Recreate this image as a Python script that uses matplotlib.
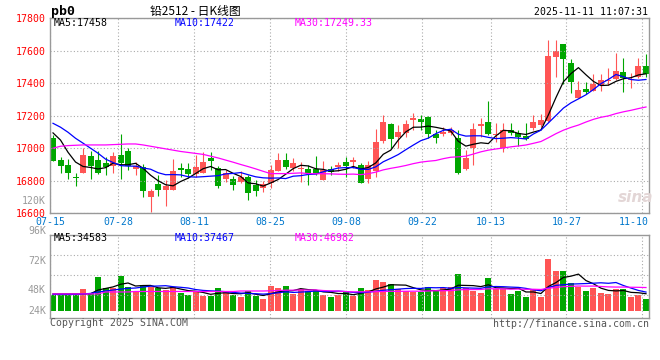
import numpy as np
import pandas as pd
import matplotlib.pyplot as plt

# подписи дат и их индексы (торговые дни)
date_labels = ['07-15', '07-28', '08-11', '08-25', '09-08', '09-22', '10-13', '10-27', '11-10']
date_idx = [0, 9, 19, 29, 39, 49, 58, 68, 78]

opens = [17061, 16928, 16898, 16822, 16847, 16953, 16928, 16912, 16893, 16959,
         16983, 16871, 16887, 16703, 16781, 16744, 16744, 16877, 16871, 16842,
         16850, 16939, 16877, 16812, 16812, 16792, 16826, 16771, 16755, 16785,
         16861, 16928, 16877, 16875, 16873, 16873, 16806, 16873, 16887, 16918,
         16918, 16898, 16812, 16857, 17047, 17149, 17071, 17092, 17173, 17180,
         17194, 17088, 17088, 17096, 17061, 16873, 17000, 17137, 17159, 17080,
         17000, 17112, 17096, 17075, 17126, 17143, 17167, 17562, 17639, 17525,
         17310, 17364, 17353, 17388, 17414, 17423, 17466, 17419, 17439, 17504]
highs = [17082, 16949, 16934, 16850, 17004, 16985, 16983, 16945, 16975, 17088,
         17000, 16918, 16904, 16751, 16836, 16806, 16933, 16908, 16908, 16959,
         16979, 16979, 16891, 16867, 16830, 16857, 16836, 16806, 16801, 16898,
         16973, 16969, 16939, 16918, 16898, 16953, 16922, 16891, 16918, 16945,
         16945, 16912, 16922, 17116, 17204, 17157, 17143, 17173, 17214, 17204,
         17198, 17112, 17129, 17129, 17112, 16990, 17157, 17184, 17290, 17157,
         17157, 17157, 17112, 17157, 17204, 17208, 17664, 17664, 17639, 17547,
         17413, 17405, 17454, 17454, 17490, 17582, 17552, 17460, 17552, 17578]
lows = [16924, 16850, 16812, 16769, 16847, 16812, 16842, 16836, 16847, 16810,
        16867, 16836, 16703, 16611, 16708, 16646, 16744, 16826, 16816, 16826,
        16850, 16867, 16755, 16795, 16744, 16785, 16679, 16708, 16728, 16755,
        16857, 16871, 16857, 16795, 16775, 16836, 16806, 16836, 16861, 16826,
        16877, 16785, 16789, 16826, 17031, 17004, 17000, 17071, 17112, 17112,
        17061, 17034, 17075, 17082, 16842, 16867, 16898, 17071, 17082, 17040,
        16977, 17082, 17014, 17051, 17112, 17132, 17159, 17439, 17392, 17337,
        17310, 17333, 17353, 17351, 17388, 17419, 17347, 17368, 17429, 17439]
closes = [16924, 16893, 16847, 16816, 16959, 16893, 16847, 16887, 16953, 16912,
          16893, 16891, 16734, 16740, 16744, 16769, 16857, 16867, 16842, 16887,
          16918, 16924, 16765, 16850, 16771, 16822, 16724, 16740, 16779, 16867,
          16928, 16887, 16912, 16881, 16847, 16842, 16867, 16853, 16898, 16893,
          16928, 16789, 16898, 17040, 17159, 17055, 17098, 17149, 17183, 17163,
          17086, 17061, 17102, 17112, 16850, 16939, 17118, 17147, 17088, 17086,
          17112, 17096, 17071, 17057, 17159, 17173, 17566, 17598, 17546, 17408,
          17357, 17347, 17394, 17419, 17419, 17474, 17429, 17425, 17504, 17454]
# объём, тыс. лотов
volume = [33, 32, 32, 32, 45, 36, 70, 48, 48, 72,
          49, 39, 53, 49, 48, 43, 49, 36, 33, 41,
          31, 30, 47, 38, 33, 29, 41, 31, 25, 51,
          48, 51, 34, 45, 41, 43, 33, 29, 33, 41,
          31, 47, 43, 64, 60, 55, 45, 41, 38, 38,
          49, 43, 47, 49, 76, 47, 41, 37, 68, 45,
          45, 35, 41, 29, 45, 29, 107, 81, 82, 58,
          50, 41, 48, 37, 35, 45, 45, 29, 33, 25]

# начало скользящих средних (история до 07-15 на картинке не видна)
ma5_head = [17094, 17050, 16975, 16915]
ma10_head = [17153, 17129, 17098, 17061, 17031, 17000, 16969, 16933, 16912]
ma30_head = [17000, 17012, 17016, 17018, 17020, 17020, 17020, 17020, 17022, 17024,
             17026, 17026, 17020, 17012, 17004, 16996, 16988, 16980, 16974, 16968,
             16962, 16951, 16940, 16927, 16914, 16900, 16887, 16873, 16858]
vol_ma5_head = [35, 35, 35, 35]
vol_ma10_head = [34, 34, 34, 34, 35, 36, 39, 41, 43]
vol_ma30_head = [35, 35, 35, 35, 35, 35, 35, 39, 39, 39,
                 39, 40, 40, 40, 40, 40, 40, 40, 40, 40,
                 40, 40, 40, 40, 40, 41, 41, 41, 41]

price_legend = ['MA5:17458', 'MA10:17422', 'MA30:17249.33']
vol_legend = ['MA5:34583', 'MA10:37467', 'MA30:46982']
vol_labels = ['120K', '96K', '72K', '48K', '24K']


def ma(values, n, head):
    s = pd.Series(values, dtype=float).rolling(n).mean().to_numpy()
    s[:len(head)] = head
    return s


UP, DN = '#ff5555', '#00a600'
MONO = 'DejaVu Sans Mono'
GRID = dict(color='#aaaaaa', ls=(0, (1, 2)), lw=0.8)
W, H = 660, 360

o, h, l, c = map(np.array, (opens, highs, lows, closes))
x = np.arange(len(c))
col = np.where(c >= o, UP, DN)


def box(left, top, right, bottom):
    return [left / W, 1 - bottom / H, (right - left) / W, (bottom - top) / H]


fig = plt.figure(figsize=(W / 100, H / 100), dpi=100)
ax = fig.add_axes(box(50, 18, 649, 213.3))
axv = fig.add_axes(box(50, 234.7, 649, 318))

# сетка по датам у sina идёт чуть шире шага свечей
grid_x = -0.4 + np.array(date_idx) * (600 / 79) / 7.506

# Свечи
ax.vlines(x, l, h, colors=col, lw=0.8)
ax.bar(x, np.maximum(np.abs(c - o), 6), bottom=np.minimum(o, c), width=0.8, color=col, lw=0)
ax.plot(x, ma(c, 5, ma5_head), color='black', lw=0.9)
ax.plot(x, ma(c, 10, ma10_head), color='#0000ff', lw=0.9)
ax.plot(x, ma(c, 30, ma30_head), color='#ff00ff', lw=0.9)
ax.set_ylim(16600, 17800)
ax.set_yticks(np.arange(16600, 17801, 200))
ax.tick_params(axis='y', length=0, pad=3, labelcolor='#ff0000', labelsize=7.1)
for t in ax.get_yticklabels():
    t.set_fontfamily(MONO)
ax.grid(axis='y', **GRID)

# Объём
v = np.array(volume, dtype=float)
axv.bar(x, v, width=0.8, color=col, lw=0)
axv.plot(x, ma(v, 5, vol_ma5_head), color='black', lw=0.9)
axv.plot(x, ma(v, 10, vol_ma10_head), color='#0000ff', lw=0.9)
axv.plot(x, ma(v, 30, vol_ma30_head), color='#ff00ff', lw=0.9)
v0, v1 = -14.35, 156.4
axv.set_ylim(v0, v1)
axv.set_yticks(v0 + np.array([0.276, 0.516, 0.756]) * (v1 - v0))
axv.set_yticklabels([])
axv.tick_params(axis='y', length=0)
axv.grid(axis='y', **GRID)

for a in (ax, axv):
    a.set_xlim(-0.4, 79.4)
    a.set_xticks(grid_x)
    a.set_xticklabels([])
    a.tick_params(axis='x', length=0)
    a.grid(axis='x', **GRID)
    for s in a.spines.values():
        s.set_color('#999999')
        s.set_linewidth(1)

# подписи дат
for k, (gx, lab) in enumerate(zip(grid_x, date_labels)):
    if k == len(date_labels) - 1:
        ax.annotate(lab, xy=(1, 0), xycoords='axes fraction', xytext=(0, -6),
                    textcoords='offset points', ha='right', va='center',
                    color='#0077cc', fontsize=7.1, family=MONO)
    else:
        ax.annotate(lab, xy=(gx, 0), xycoords=('data', 'axes fraction'), xytext=(0, -6),
                    textcoords='offset points', ha='center', va='center',
                    color='#0077cc', fontsize=7.1, family=MONO)

# подписи оси объёма (стоят как на sina)
for lab, py in zip(vol_labels, [200.7, 231, 261, 290, 311]):
    fig.text(46 / W, 1 - py / H, lab, ha='right', va='center', color='#999999',
             fontsize=7.1, family=MONO)

# легенды MA
for lab, px, cl in zip(price_legend, [54, 175, 295], ['black', '#0000ff', '#ff00ff']):
    fig.text(px / W, 1 - 23.5 / H, lab, ha='left', va='center', color=cl, fontsize=7.1, family=MONO)
for lab, px, cl in zip(vol_legend, [54, 175, 295], ['black', '#0000ff', '#ff00ff']):
    fig.text(px / W, 1 - 238.3 / H, lab, ha='left', va='center', color=cl, fontsize=7.1, family=MONO)

# заголовок
fig.text(51 / W, 1 - 11 / H, 'pb0', ha='left', va='center', fontsize=9.5,
         fontweight='bold', family=MONO)
fig.text(195 / W, 1 - 11 / H, '铅2512 - 日K线图', ha='center', va='center', fontsize=8.5,
         family=['Noto Sans CJK SC', 'DejaVu Sans'])
fig.text(648 / W, 1 - 12.3 / H, '2025-11-11 11:07:31', ha='right', va='center',
         fontsize=7.1, family=MONO)

# водяной знак и подвал
fig.text(636 / W, 1 - 197 / H, 'sina', ha='center', va='center', fontsize=11,
         fontweight='bold', style='italic', color='#e3d6d6')
fig.text(50 / W, 1 - 323.5 / H, 'Copyright 2025 SINA.COM', ha='left', va='center',
         fontsize=7.1, color='#555555', family=MONO)
fig.text(649 / W, 1 - 324 / H, 'http://finance.sina.com.cn', ha='right', va='center',
         fontsize=7.1, color='#555555', family=MONO)

fig.savefig('out.png', dpi=100, facecolor='white')
